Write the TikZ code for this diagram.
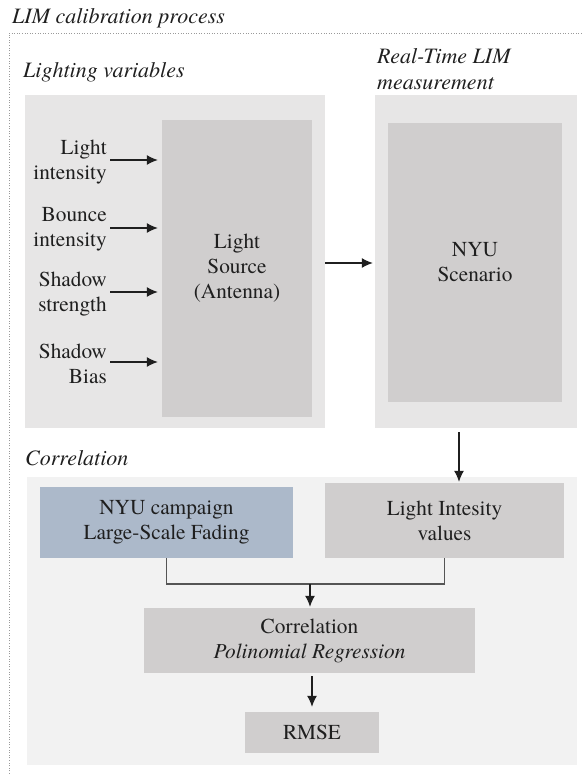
\documentclass[tikz,border=0pt]{standalone}
\usepackage{fontspec}
\setmainfont{texgyretermes}[Extension=.otf, UprightFont=*-regular, ItalicFont=*-italic, BoldFont=*-bold, BoldItalicFont=*-bolditalic]
\usetikzlibrary{arrows.meta}

\definecolor{panel}{HTML}{E7E6E6}
\definecolor{panellight}{HTML}{F2F2F2}
\definecolor{block}{HTML}{D0CECE}
\definecolor{bluebox}{HTML}{ACB9CA}
\definecolor{ink}{HTML}{1F1F1F}
\definecolor{framegray}{HTML}{9A9A9A}
\definecolor{linkgray}{HTML}{555555}

\begin{document}
\begin{tikzpicture}[x=1pt,y=-1pt,
  every node/.style={text=ink, font=\fontsize{21.3}{25}\selectfont},
  heading/.style={font=\itshape\fontsize{22}{26}\selectfont, anchor=base west, inner sep=0, align=left},
  panelbox/.style={fill=panel, inner sep=0, draw=none},
  blockbox/.style={fill=block, inner sep=0, align=center},
  varlabel/.style={anchor=east, align=right, inner sep=0},
  conn/.style={draw=ink, line width=1.1pt, -{Latex[length=11pt,width=10pt]}},
  joinline/.style={draw=linkgray, line width=1.1pt},
]
\useasboundingbox (0,0) rectangle (582,774);

% dotted frame of the whole process
\draw[framegray, line width=1pt, dash pattern=on 1pt off 1.6pt] (9,774) -- (9,33) -- (582,33);

% headings (the base of a two-line heading is its last line)
\node[heading] (title) at (12,23) {LIM calibration process};
\node[heading] (hlv) at (23,77) {Lighting variables};
\node[heading] (hrt) at (377,89) {Real-Time LIM\\measurement};
\node[heading] (hcor) at (25,465) {Correlation};

% panels
\node[panelbox, minimum width=300pt, minimum height=333pt] (lv) at (175,261.5) {};
\node[panelbox, minimum width=202pt, minimum height=333pt] (rt) at (476,261.5) {};
\node[panelbox, fill=panellight, minimum width=550pt, minimum height=288pt] (cp) at (302,621) {};

% blocks
\node[blockbox, minimum width=150pt, minimum height=297pt] (src) at (237,268.5) {Light\\Source\\(Antenna)};
\node[blockbox, minimum width=174pt, minimum height=279pt] (nyu) at (475,262.5) {NYU\\Scenario};
\node[blockbox, fill=bluebox, minimum width=253pt, minimum height=71pt] (camp) at (166.5,522.5) {NYU campaign\\Large-Scale Fading};
\node[blockbox, minimum width=239pt, minimum height=75pt] (li) at (444.5,520.5) {Light Intesity\\values};
\node[blockbox, minimum width=331pt, minimum height=65pt] (corr) at (309.5,640.5) {Correlation\\\textit{Polinomial Regression}};
\node[blockbox, minimum width=134pt, minimum height=41pt] (rmse) at (312,732.5) {RMSE};

% lighting variables
\node[varlabel] (v1) at (107,162) {Light\\intensity};
\node[varlabel] (v2) at (107,229) {Bounce\\intensity};
\node[varlabel] (v3) at (107,294) {Shadow\\strength};
\node[varlabel] (v4) at (107,364) {Shadow\\Bias};

\foreach \v/\ay in {v1/160, v2/228, v3/292, v4/362}{
  \coordinate (\v a) at (110,\ay);
  \draw[conn, shorten >=4pt] (\v a) -- (\v a -| src.west);
}

% connectors
\coordinate (feed) at (0,263);
\draw[conn, shorten >=2pt] (lv.east |- feed) -- (rt.west |- feed);
\coordinate (drop) at (459,0);
\draw[conn, shorten <=4pt, shorten >=1pt] (rt.south -| drop) -- (li.north -| drop);
\coordinate (merge) at (310,584);
\draw[joinline] (camp.south) |- (merge) -| (li.south);
\draw[conn, shorten >=1pt] (merge) -- (corr.north -| merge);
\draw[conn, shorten <=3pt, shorten >=5pt] (corr.south -| rmse.north) -- (rmse.north);
\end{tikzpicture}
\end{document}
